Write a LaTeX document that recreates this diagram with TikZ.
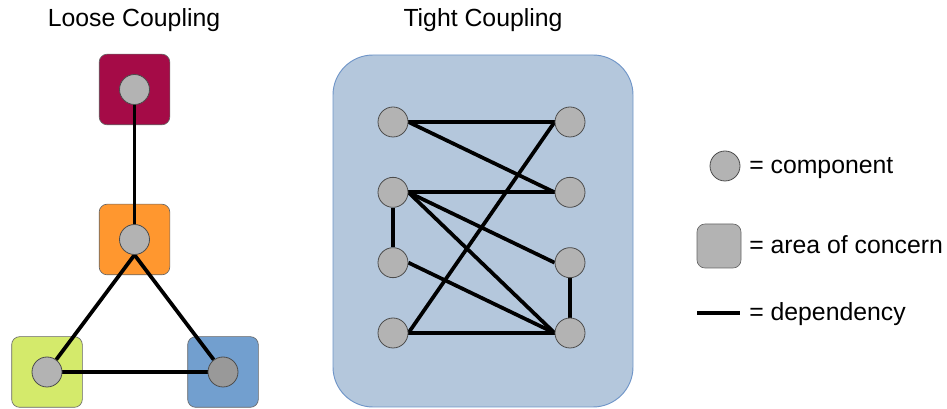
\documentclass[tikz,border=0pt]{standalone}
\usepackage{fontspec}
\setmainfont{Liberation Sans}
\usepackage{tikz}
\usetikzlibrary{backgrounds}

\definecolor{comp_gray}{HTML}{B3B3B3}
\definecolor{comp_dark}{HTML}{999999}
\definecolor{area_purple}{HTML}{A50B47}
\definecolor{area_orange}{HTML}{FF972F}
\definecolor{area_green}{HTML}{D4EA6B}
\definecolor{area_blue}{HTML}{729FCF}
\definecolor{tight_fill}{HTML}{B4C7DC}
\definecolor{tight_edge}{HTML}{6F95C8}

\tikzstyle{dep} = [draw, line width=2.8pt]
\tikzstyle{comp} = [circle, draw=black!70, fill=comp_gray, line width=0.6pt, minimum size=22.5pt, inner sep=0pt]
\tikzstyle{area} = [rectangle, draw=black!60, line width=0.5pt, rounded corners=6pt, minimum size=53pt, inner sep=0pt]
\tikzstyle{title} = [anchor=base, font=\fontsize{18.6}{22}\selectfont]
\tikzstyle{legend} = [anchor=base west, inner sep=0pt, font=\fontsize{18.6}{22}\selectfont]

\begin{document}
\begin{tikzpicture}[x=0.75pt, y=-0.75pt]
		\useasboundingbox (0,0) rectangle (947,409);
		
		% loose coupling
		\node [title] (t1) at (134,27) {Loose Coupling};
		\begin{scope}[on background layer]
		\node [area, fill=area_purple] (a1) at (134.5,89.5) {};
		\node [area, fill=area_orange, below of=a1, node distance=112.5pt] (a2) {};
		\node [area, fill=area_green] (a3) at (47,372) {};
		\node [area, fill=area_blue] (a4) at (223,372) {};
		\end{scope}
		
		\node [comp] (c1) at (a1) {};
		\node [comp] (c2) at (a2) {};
		\node [comp] (c3) at (a3) {};
		\node [comp, fill=comp_dark] (c4) at (a4) {};
		
		\begin{scope}[on background layer]
		\path [dep] (c1) to (c2);
		\path [dep] (c2.south) to (c3);
		\path [dep] (c2.south) to (c4);
		\path [dep] (c3) to (c4);
		\end{scope}
		
		% tight coupling
		\node [title] (t2) at (483,27) {Tight Coupling};
		\begin{scope}[on background layer]
		\node [draw=tight_edge, fill=tight_fill, line width=0.7pt, rounded corners=30pt, minimum width=225pt, minimum height=264pt] (tight) at (483,231) {};
		\end{scope}
		
		\node [comp] (l1) at (393,122) {};
		\node [comp, below of=l1, node distance=52.75pt] (l2) {};
		\node [comp, below of=l2, node distance=52.75pt] (l3) {};
		\node [comp, below of=l3, node distance=52.75pt] (l4) {};
		\node [comp, right of=l1, node distance=132.75pt] (r1) {};
		\node [comp, right of=l2, node distance=132.75pt] (r2) {};
		\node [comp, right of=l3, node distance=132.75pt] (r3) {};
		\node [comp, right of=l4, node distance=132.75pt] (r4) {};
		
		\begin{scope}[on background layer]
		\path [dep] (l1.east) to (r1.west);
		\path [dep] (l1.east) to (r2.west);
		\path [dep] (l2.east) to (r2.west);
		\path [dep] (l2.east) to (r3.west);
		\path [dep] (l2.east) to (r4.west);
		\path [dep] (l2) to (l3);
		\path [dep] (l3.east) to (r4.west);
		\path [dep] (l4.east) to (r1.west);
		\path [dep] (l4.east) to (r4.west);
		\path [dep] (r3) to (r4);
		\end{scope}
		
		% legend
		\node [comp] (lc) at (725,166) {};
		\node [legend] (lc_txt) at (749,174) {= component};
		\node [area, fill=comp_gray, minimum size=33pt] (la) at (719,246) {};
		\node [legend] (la_txt) at (749,254) {= area of concern};
		\coordinate (ld_a) at (697,313);
		\coordinate (ld_b) at (740,313);
		\path [dep] (ld_a) to (ld_b);
		\node [legend] (ld_txt) at (749,321) {= dependency};
\end{tikzpicture}
\end{document}
